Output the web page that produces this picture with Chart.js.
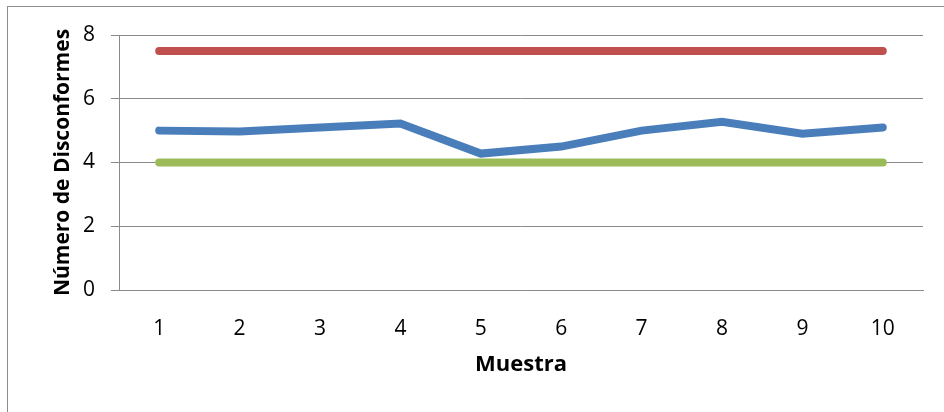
<!DOCTYPE html>
<html>
<head>
<meta charset="utf-8">
<script src="https://cdn.jsdelivr.net/npm/chart.js@4/dist/chart.umd.min.js"></script>
<style>
  html, body { margin: 0; padding: 0; background: #fff; }
  #wrap { position: relative; width: 944px; height: 412px; }
  #frame { position: absolute; left: 7px; top: 6px; width: 950px; height: 420px; border: 1px solid #8c8c8c; box-sizing: border-box; }
  canvas { position: absolute; left: 0; top: 0; }
</style>
</head>
<body>
<div id="wrap">
  <div id="frame"></div>
  <canvas id="chart" width="944" height="412"></canvas>
</div>
<script>
// data
const muestras = ['1', '2', '3', '4', '5', '6', '7', '8', '9', '10']
const disconformes = [5.0, 4.97, 5.1, 5.22, 4.28, 4.5, 5.0, 5.28, 4.9, 5.1]
const limiteSuperior = [7.5, 7.5, 7.5, 7.5, 7.5, 7.5, 7.5, 7.5, 7.5, 7.5]
const limiteInferior = [4, 4, 4, 4, 4, 4, 4, 4, 4, 4]
const yTicks = [0, 2, 4, 6, 8]

const FONT = "'Open Sans', sans-serif"
const gridGray = '#8a8a8a'

function serie(data, color) {
  return {
    data,
    borderColor: color,
    backgroundColor: color,
    borderWidth: 8,
    borderCapStyle: 'round',
    borderJoinStyle: 'miter',
    pointRadius: 0,
    tension: 0,
    fill: false,
  }
}

const ctx = document.querySelector('#chart').getContext('2d')

new Chart(ctx, {
  type: 'line',
  data: {
    labels: muestras,
    datasets: [
      serie(limiteInferior, '#9bbb59'),
      serie(limiteSuperior, '#c0504d'),
      serie(disconformes, '#4a7ebb'),
    ],
  },
  options: {
    responsive: false,
    animation: false,
    layout: { padding: { left: 0, right: 21, top: 35, bottom: 0 } },
    plugins: {
      legend: { display: false },
      tooltip: { enabled: false },
    },
    scales: {
      x: {
        offset: true,
        grid: { display: false },
        border: { display: true, color: gridGray, width: 1 },
        ticks: {
          color: '#000',
          font: { family: FONT, size: 21 },
          padding: 18,
          maxRotation: 0,
        },
        title: {
          display: true,
          text: 'Muestra',
          color: '#000',
          font: { family: FONT, size: 22, weight: 'bold' },
          padding: { top: 0, bottom: 34 },
        },
        afterFit(scale) { scale.height = 122 },
      },
      y: {
        min: 0,
        max: 8,
        afterBuildTicks(scale) { scale.ticks = yTicks.map(v => ({ value: v })) },
        grid: { color: gridGray, lineWidth: 1, tickLength: 8, tickColor: gridGray },
        border: { display: true, color: gridGray, width: 1 },
        ticks: {
          color: '#000',
          font: { family: FONT, size: 21 },
          padding: 16,
        },
        title: {
          display: true,
          text: 'Número de Disconformes',
          color: '#000',
          font: { family: FONT, size: 21, weight: 'bold' },
          padding: { top: 50, bottom: 0 },
        },
        afterFit(scale) { scale.width = 119 },
      },
    },
  },
})
</script>
</body>
</html>
